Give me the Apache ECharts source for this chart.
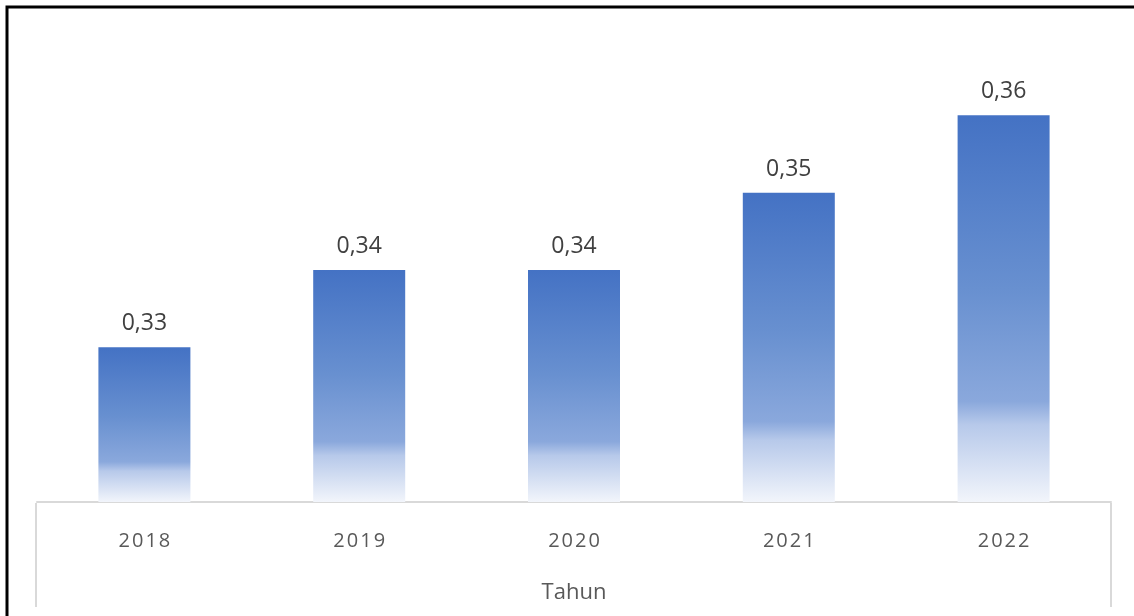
<!DOCTYPE html>
<html>
<head>
<meta charset="utf-8">
<script src="https://cdn.jsdelivr.net/npm/echarts@6/dist/echarts.min.js"></script>
<style>
  html, body { margin: 0; padding: 0; background: #fff; }
  #chart { width: 1134px; height: 616px; }
</style>
</head>
<body>
<div id="chart"></div>
<script>
const years = ['2018', '2019', '2020', '2021', '2022']
const values = [0.33, 0.34, 0.34, 0.35, 0.36]
const axisName = 'Tahun'

const chart = echarts.init(document.getElementById('chart'))

const barColor = new echarts.graphic.LinearGradient(0, 0, 0, 1, [
  { offset: 0, color: '#4472c4' },
  { offset: 0.45, color: '#6890d0' },
  { offset: 0.74, color: '#8aa8dc' },
  { offset: 0.8, color: '#b7c9ea' },
  { offset: 1, color: '#f2f5fb' }
])

const option = {
  animation: false,
  grid: { left: 37, right: 23, top: 38, bottom: 114 },
  xAxis: {
    type: 'category',
    data: years,
    name: axisName,
    nameLocation: 'middle',
    nameGap: 80,
    nameTextStyle: { fontFamily: 'Open Sans', fontSize: 22, color: '#595959' },
    axisLine: { show: true, lineStyle: { color: '#d9d9d9', width: 2 } },
    axisTick: { show: false },
    axisLabel: {
      margin: 29,
      fontFamily: 'Open Sans',
      fontSize: 20,
      color: '#595959',
      formatter: v => v.split('').join('\u200a')
    }
  },
  yAxis: {
    type: 'value',
    min: 0.31,
    max: 0.37,
    show: false
  },
  series: [{
    type: 'bar',
    data: values,
    barWidth: 92,
    itemStyle: { color: barColor },
    label: {
      show: true,
      position: 'top',
      distance: 12,
      fontFamily: 'Open Sans',
      fontSize: 23,
      color: '#404040',
      formatter: p => p.value.toFixed(2).replace('.', ',')
    }
  }],
  graphic: [
    {
      type: 'polyline',
      shape: { points: [[7, 620], [7, 7], [1140, 7]] },
      style: { stroke: '#000', lineWidth: 3, fill: null }
    },
    {
      type: 'polyline',
      shape: { points: [[36, 607], [36, 503]] },
      style: { stroke: '#d9d9d9', lineWidth: 2, fill: null }
    },
    {
      type: 'polyline',
      shape: { points: [[1111, 503], [1111, 607]] },
      style: { stroke: '#d9d9d9', lineWidth: 2, fill: null }
    }
  ]
}

chart.setOption(option)
</script>
</body>
</html>
